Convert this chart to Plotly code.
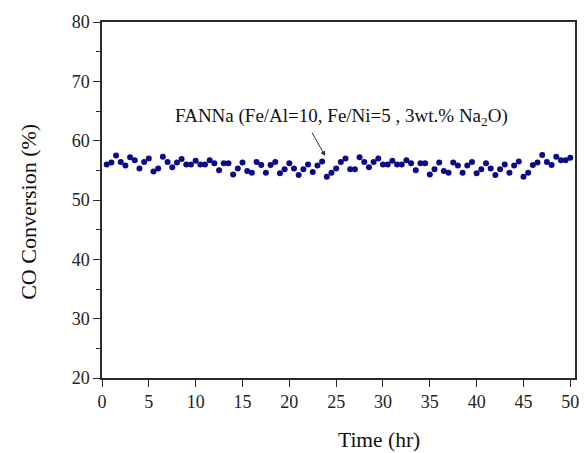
import plotly.graph_objects as go

time_hr = [0.5, 1.0, 1.5, 2.0, 2.5, 3.0, 3.5, 4.0, 4.5, 5.0,
           5.5, 6.0, 6.5, 7.0, 7.5, 8.0, 8.5, 9.0, 9.5, 10.0,
           10.5, 11.0, 11.5, 12.0, 12.5, 13.0, 13.5, 14.0, 14.5, 15.0,
           15.5, 16.0, 16.5, 17.0, 17.5, 18.0, 18.5, 19.0, 19.5, 20.0,
           20.5, 21.0, 21.5, 22.0, 22.5, 23.0, 23.5, 24.0, 24.5, 25.0,
           25.5, 26.0, 26.5, 27.0, 27.5, 28.0, 28.5, 29.0, 29.5, 30.0,
           30.5, 31.0, 31.5, 32.0, 32.5, 33.0, 33.5, 34.0, 34.5, 35.0,
           35.5, 36.0, 36.5, 37.0, 37.5, 38.0, 38.5, 39.0, 39.5, 40.0,
           40.5, 41.0, 41.5, 42.0, 42.5, 43.0, 43.5, 44.0, 44.5, 45.0,
           45.5, 46.0, 46.5, 47.0, 47.5, 48.0, 48.5, 49.0, 49.5, 50.0]

co_conversion = [56.0, 56.3, 57.5, 56.4, 55.8, 57.2, 56.7, 55.3, 56.4, 57.0,
                 54.8, 55.3, 57.3, 56.4, 55.5, 56.3, 56.9, 56.0, 56.0, 56.6,
                 56.0, 56.0, 56.7, 56.2, 55.0, 56.2, 56.2, 54.3, 55.3, 56.3,
                 54.9, 54.6, 56.4, 55.9, 54.6, 55.9, 56.4, 54.5, 55.2, 56.2,
                 55.3, 54.2, 55.2, 56.0, 54.7, 55.8, 56.5, 53.9, 54.6, 55.3,
                 56.4, 57.0, 55.2, 55.2, 57.2, 56.4, 55.5, 56.4, 57.0, 56.0,
                 56.0, 56.6, 56.0, 56.0, 56.7, 56.2, 55.0, 56.2, 56.2, 54.3,
                 55.2, 56.3, 54.9, 54.6, 56.3, 55.8, 54.6, 55.8, 56.4, 54.5,
                 55.2, 56.2, 55.3, 54.2, 55.2, 56.0, 54.6, 55.8, 56.5, 53.9,
                 54.6, 55.9, 56.3, 57.6, 56.4, 55.9, 57.3, 56.7, 56.7, 57.1]

x_ticks = [0, 5, 10, 15, 20, 25, 30, 35, 40, 45, 50]
y_ticks = [20, 30, 40, 50, 60, 70, 80]

serif = "Liberation Serif"
axis_col = "#2b2b2b"

fig = go.Figure()
fig.add_trace(go.Scatter(
    x=time_hr, y=co_conversion, mode="markers",
    marker=dict(size=6, color="#0b0b86", line=dict(width=0)),
    showlegend=False, hoverinfo="skip"))

fig.update_layout(
    width=587, height=453,
    margin=dict(l=102, r=8, t=22, b=75),
    paper_bgcolor="white", plot_bgcolor="white",
    font=dict(family=serif, size=18, color="#222"),
    xaxis=dict(range=[0, 50.5], tickvals=x_ticks, ticks="outside", ticklen=7,
               tickwidth=1.3, tickcolor=axis_col, showline=True, linewidth=1.5,
               linecolor=axis_col, mirror=True, showgrid=False, zeroline=False,
               tickfont=dict(family=serif, size=18, color="#222")),
    yaxis=dict(range=[20, 80], tickvals=y_ticks, ticks="outside", ticklen=7,
               tickwidth=1.3, tickcolor=axis_col, showline=True, linewidth=1.5,
               linecolor=axis_col, mirror=True, showgrid=False, zeroline=False,
               minor=dict(dtick=5, ticks="outside", ticklen=4, tickwidth=1.1,
                          tickcolor=axis_col, showgrid=False),
               tickfont=dict(family=serif, size=18, color="#222")),
)

fig.add_annotation(xref="paper", yref="paper", x=0.586, y=-0.174,
                   text="Time (hr)", showarrow=False,
                   font=dict(family=serif, size=21.5, color="#111"),
                   xanchor="center", yanchor="middle")
fig.add_annotation(xref="paper", yref="paper", x=-0.157, y=0.466,
                   text="CO Conversion (%)", showarrow=False, textangle=-90,
                   font=dict(family=serif, size=22, color="#111"),
                   xanchor="center", yanchor="middle")
fig.add_annotation(x=7.6, y=64.0, xref="x", yref="y",
                   text="FANNa (Fe/Al=10, Fe/Ni=5 , 3wt.% Na<sub>2</sub>O)",
                   showarrow=False, xanchor="left", yanchor="middle",
                   font=dict(family=serif, size=19, color="#111"))
fig.add_annotation(x=23.83, y=57.4, xref="x", yref="y", text="",
                   showarrow=True, ax=-14, ay=-25, arrowhead=2, arrowsize=1,
                   arrowwidth=1, arrowcolor="#333")

fig.write_html("out.html")
